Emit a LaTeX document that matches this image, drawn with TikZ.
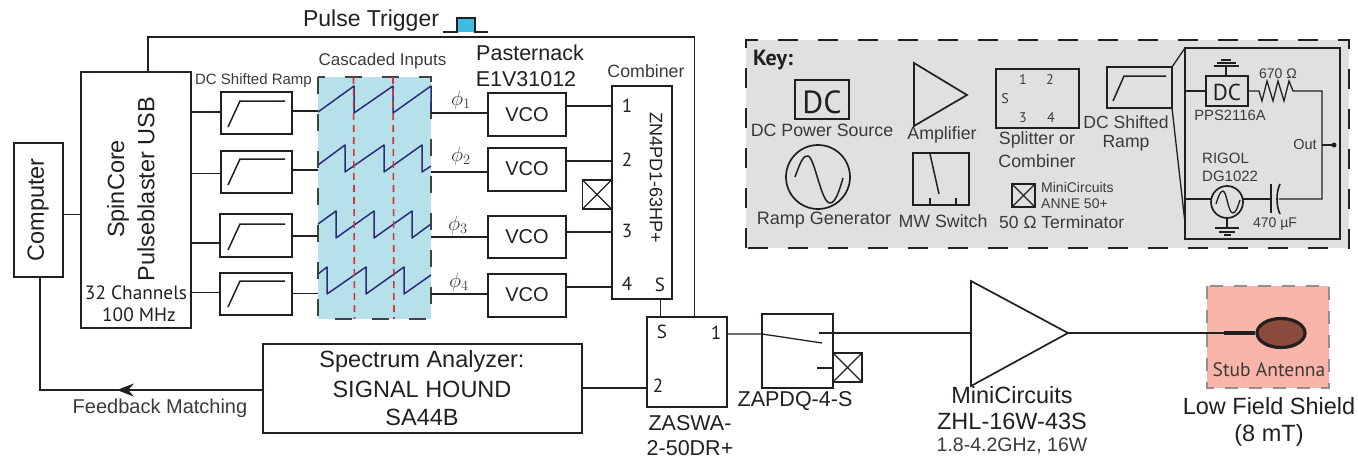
\documentclass[tikz,border=0pt]{standalone}
\usepackage{fontspec}
\setmainfont{Liberation Sans}
\newfontfamily\myr{PT Sans}
\usetikzlibrary{arrows.meta,calc,shapes.geometric,decorations.markings}

\definecolor{ink}{HTML}{231F20}
\definecolor{greytext}{HTML}{3A3A3A}
\definecolor{cascfill}{HTML}{B7E1EA}
\definecolor{sawblue}{HTML}{2B2D7A}
\definecolor{markred}{HTML}{D2323A}
\definecolor{keyfill}{HTML}{E0E0E0}
\definecolor{shieldfill}{HTML}{F8B5A8}
\definecolor{loopfill}{HTML}{8A4A3C}
\definecolor{pulsefill}{HTML}{3FBDE0}

\newcommand{\fs}[1]{\fontsize{#1}{#1}\selectfont}

\tikzset{
    blockbox/.style={draw=ink,line width=1.7pt,inner sep=0pt,outer sep=0pt},
    wire/.style={draw=ink,line width=1.6pt},
    thinwire/.style={draw=ink,line width=1.3pt},
    label/.style={inner sep=0pt,text=ink},
    greylabel/.style={inner sep=0pt,text=greytext},
    saw/.style={draw=sawblue,line width=1.5pt,line join=round},
    midarrow/.style={postaction={decorate},decoration={markings,
        mark=at position 0.435 with {\arrow{Stealth[length=17pt,width=13pt]}}}},
}

\begin{document}
\begin{tikzpicture}[x=1pt,y=-1pt]
    \useasboundingbox (0,0) rectangle (1358,458);

    % filled regions
    \node[inner sep=0pt,fill=cascfill,minimum width=113pt,minimum height=242pt] (cascade) at (374.5,198) {};
    \draw[ink!85,line width=1.8pt,dash pattern=on 17pt off 20pt] (318,77) rectangle (431,319);
    \node[inner sep=0pt,fill=keyfill,minimum width=603pt,minimum height=208pt] (key) at (1047.5,144) {};
    \draw[ink,line width=1.8pt,dash pattern=on 20pt off 20pt] (746,248) -- (746,40) -- (1349,40) -- (1349,248) -- cycle;
    \node[inner sep=0pt,fill=shieldfill,minimum width=122pt,minimum height=102pt] (shield) at (1268,337) {};
    \draw[ink!50,line width=1.6pt,dash pattern=on 13pt off 11pt] (1207,286) rectangle (1329,388);

    % main blocks
    \node[blockbox,minimum width=49pt,minimum height=134pt] (computer) at (38.5,210) {};
    \node[label,rotate=90] (computer_txt) at (38,210) {\fs{23.5}Computer};
    \node[blockbox,minimum width=110pt,minimum height=256pt] (blaster) at (136,200) {};
    \node[label,rotate=90] (blaster_a) at (118,189) {\fs{23.5}SpinCore};
    \node[label,rotate=90] (blaster_b) at (146,189) {\fs{23.5}Pulseblaster USB};
    \node[label] (blaster_c) at (136,293) {\myr\fs{19.3}32 Channels};
    \node[label] (blaster_d) at (139,315) {\myr\fs{19.3}100 MHz};

    \node[blockbox,minimum width=71pt,minimum height=42pt] (ramp_1) at (256.5,113) {};
    \node[blockbox,minimum width=71pt,minimum height=42pt] (ramp_2) at (256.5,172) {};
    \node[blockbox,minimum width=72pt,minimum height=43pt] (ramp_3) at (256,235.5) {};
    \node[blockbox,minimum width=72pt,minimum height=42pt] (ramp_4) at (256,294) {};
    \draw[thinwire,line width=1.5pt] (228,127) -- (240,101) -- (285,101);
    \draw[thinwire,line width=1.5pt] (228,185) -- (240,159) -- (285,159);
    \draw[thinwire,line width=1.5pt] (228,250) -- (240,224) -- (285,224);
    \draw[thinwire,line width=1.5pt] (228,307) -- (240,281) -- (285,281);
    \node[greylabel] (ramp_txt) at (253.5,81) {\fs{15}DC Shifted Ramp};
    \node[greylabel] (cascade_txt) at (382.5,61) {\fs{17}Cascaded Inputs};

    \node[blockbox,minimum width=78pt,minimum height=43pt] (vco_1) at (527,114.5) {};
    \node[blockbox,minimum width=78pt,minimum height=43pt] (vco_2) at (527,169.5) {};
    \node[blockbox,minimum width=78pt,minimum height=42pt] (vco_3) at (527,237) {};
    \node[blockbox,minimum width=78pt,minimum height=43pt] (vco_4) at (527,295.5) {};
    \node[label] (vco_1_txt) at (527,115) {\fs{20}VCO};
    \node[label] (vco_2_txt) at (527,169) {\fs{20}VCO};
    \node[label] (vco_3_txt) at (527,237) {\fs{20}VCO};
    \node[label] (vco_4_txt) at (527,295) {\fs{20}VCO};
    \node[label] (vco_a) at (530,53) {\fs{21.5}Pasternack};
    \node[label] (vco_b) at (526,79) {\fs{21.5}E1V31012};
    \node[greylabel] (phi_1) at (461,100) {\fs{20}$\phi_1$};
    \node[greylabel] (phi_2) at (461,156) {\fs{20}$\phi_2$};
    \node[greylabel] (phi_3) at (458,225) {\fs{20}$\phi_3$};
    \node[greylabel] (phi_4) at (459,282) {\fs{20}$\phi_4$};

    \node[blockbox,minimum width=60pt,minimum height=213pt] (combiner) at (642,192.5) {};
    \node[greylabel] (combiner_txt) at (646,71) {\fs{17.8}Combiner};
    \node[label] (comb_1) at (627,106) {\myr\fs{19}1};
    \node[label] (comb_2) at (627,160) {\myr\fs{19}2};
    \node[label] (comb_3) at (627,231) {\myr\fs{19}3};
    \node[label] (comb_4) at (627,284) {\myr\fs{19}4};
    \node[label] (comb_s) at (660,285) {\myr\fs{19}S};
    \node[label,rotate=-90] (comb_part) at (656,178) {\fs{18}ZN4PD1-63HP+};
    \node[blockbox,minimum width=29pt,minimum height=29pt] (term_a) at (597,194.5) {};
    \draw[thinwire] (term_a.north west) -- (term_a.south east);
    \draw[thinwire] (term_a.north east) -- (term_a.south west);

    \node[blockbox,minimum width=319pt,minimum height=89pt] (spec_an) at (422.5,388.5) {};
    \node[label] (spec_a) at (422,361) {\fs{23.5}Spectrum Analyzer:};
    \node[label] (spec_b) at (422,389) {\fs{23.5}SIGNAL HOUND};
    \node[label] (spec_c) at (422,417) {\fs{23.5}SA44B};
    \node[greylabel] (feedback) at (160,408) {\fs{20}Feedback Matching};

    \node[blockbox,minimum width=80pt,minimum height=90pt] (zaswa) at (687,362) {};
    \node[label] (zaswa_s) at (662,332) {\myr\fs{19}S};
    \node[label] (zaswa_1) at (716,333) {\myr\fs{19}1};
    \node[label] (zaswa_2) at (658,386) {\myr\fs{19}2};
    \node[label] (zaswa_a) at (690,423.5) {\fs{21.5}ZASWA-};
    \node[label] (zaswa_b) at (690,448.5) {\fs{21.5}2-50DR+};

    \node[blockbox,minimum width=71pt,minimum height=74pt] (switch) at (797.5,351) {};
    \node[label] (switch_txt) at (795,401) {\fs{21.5}ZAPDQ-4-S};
    \node[blockbox,minimum width=29pt,minimum height=29pt] (term_b) at (847.5,367.5) {};
    \draw[thinwire] (term_b.north west) -- (term_b.south east);
    \draw[thinwire] (term_b.north east) -- (term_b.south west);
    \coordinate (sw_in) at (762,334);
    \coordinate (sw_lever) at (822,343);
    \coordinate (sw_top) at (819,333);
    \coordinate (sw_low) at (817,368);

    \coordinate (amp_in) at (971,333);
    \coordinate (amp_out) at (1068,333);
    \draw[blockbox] (971,281) -- (1068,333) -- (971,386) -- cycle;
    \node[label] (amp_a) at (1012,395) {\fs{23.5}MiniCircuits};
    \node[label] (amp_b) at (1012,421) {\fs{23.5}ZHL-16W-43S};
    \node[greylabel] (amp_c) at (1012,446) {\fs{19.5}1.8-4.2GHz, 16W};

    % antenna
    \node[draw=ink,line width=3.2pt,fill=loopfill,ellipse,inner sep=0pt,minimum width=48pt,minimum height=29pt] (loop) at (1281,333) {};
    \coordinate (stem) at (1224,333);
    \draw[ink,line width=3.2pt] (stem) -- (loop.west);
    \node[greylabel] (stub_txt) at (1269,370) {\myr\fs{19.5}Stub Antenna};
    \node[label] (shield_a) at (1269,406) {\fs{23.5}Low Field Shield};
    \node[label] (shield_b) at (1269,435) {\fs{23.5}(8 mT)};

    % sawtooth inputs
    \draw[saw] (318,112) -- (354,86) -- (354,113) -- (393,86) -- (393,113) -- (431,86) -- (431,113);
    \draw[saw] (318,165) -- (345,145) -- (345,172) -- (384,145) -- (384,172) -- (422,145) -- (422,172) -- (431,166);
    \draw[saw] (318,224) -- (336,211) -- (336,238) -- (374,211) -- (374,238) -- (412,211) -- (412,238) -- (431,224);
    \draw[saw] (318,274) -- (327,267) -- (327,294) -- (366,267) -- (366,294) -- (404,267) -- (404,294) -- (431,275);
    \draw[markred,line width=1.6pt,dash pattern=on 7pt off 5pt] (353.5,77) -- (354.5,319);
    \draw[markred,line width=1.6pt,dash pattern=on 7pt off 5pt] (393,77) -- (394,319);

    % connections
    \draw[wire] (computer.east |- 0,214.5) -- (blaster.west |- 0,214.5);
    \draw[wire] (blaster.east |- 0,112) -- (ramp_1.west |- 0,112);
    \draw[wire] (blaster.east |- 0,173.5) -- (ramp_2.west |- 0,173.5);
    \draw[wire] (blaster.east |- 0,243) -- (ramp_3.west |- 0,243);
    \draw[wire] (blaster.east |- 0,292.5) -- (ramp_4.west |- 0,292.5);
    \draw[wire] (ramp_1.east |- 0,111) -- (cascade.west |- 0,111);
    \draw[wire] (ramp_2.east |- 0,170) -- (cascade.west |- 0,170);
    \draw[wire] (ramp_3.east |- 0,236) -- (cascade.west |- 0,236);
    \draw[wire] (ramp_4.east |- 0,293.5) -- (cascade.west |- 0,293.5);
    \draw[wire] (cascade.east |- 0,113) -- (vco_1.west |- 0,113);
    \draw[wire] (cascade.east |- 0,172) -- (vco_2.west |- 0,172);
    \draw[wire] (cascade.east |- 0,237) -- (vco_3.west |- 0,237);
    \draw[wire] (cascade.east |- 0,294) -- (vco_4.west |- 0,294);
    \draw[wire] (vco_1.east |- 0,106) -- (combiner.west |- 0,106);
    \draw[wire] (vco_2.east |- 0,161) -- (combiner.west |- 0,161);
    \draw[wire] (vco_3.east |- 0,232) -- (combiner.west |- 0,232);
    \draw[wire] (vco_4.east |- 0,287) -- (combiner.west |- 0,287);
    \draw[wire] (combiner.south -| 660.5,0) -- (zaswa.north -| 660.5,0);
    \draw[wire] (blaster.north -| 148,0) -- (148,37) -- (694.5,37) -- (zaswa.north -| 694.5,0);
    \draw[wire] (spec_an.east |- 0,388) -- (zaswa.west |- 0,388);
    \draw[wire,midarrow] (spec_an.west |- 0,390) -- (40,390) -- (40,277);
    \draw[thinwire] (zaswa.east |- 0,334) -- (sw_in) -- (sw_lever);
    \draw[thinwire] (sw_top) -- (amp_in);
    \draw[thinwire] (sw_low) -- (term_b.west |- sw_low);
    \draw[thinwire] (amp_out) -- (stem);

    % trigger pulse
    \node[label] (pulse_txt) at (371,21) {\fs{23}Pulse Trigger};
    \fill[pulsefill] (457,18) rectangle (475,32);
    \draw[thinwire] (443,32) -- (457,32) -- (457,18) -- (475,18) -- (475,32) -- (488,32);

    % key
    \node[label] (key_txt) at (773,60) {\myr\bfseries\fs{22}Key:};
    \node[blockbox,minimum width=54pt,minimum height=39pt] (key_dc) at (822,99.5) {};
    \node[label] (key_dc_txt) at (822,102) {\myr\fs{32}DC};
    \node[greylabel] (key_dc_lab) at (822,130) {\fs{17.8}DC Power Source};
    \draw[blockbox] (914,63) -- (967,95) -- (914,126) -- cycle;
    \node[greylabel] (key_amp_lab) at (942,135) {\fs{17.8}Amplifier};
    \node[blockbox,minimum width=83pt,minimum height=59pt] (key_split) at (1037.5,98.5) {};
    \node[greylabel] (split_1) at (1023,80) {\myr\fs{14}1};
    \node[greylabel] (split_2) at (1050,80) {\myr\fs{14}2};
    \node[greylabel] (split_s) at (1005,99) {\myr\fs{14}S};
    \node[greylabel] (split_3) at (1023,118) {\myr\fs{14}3};
    \node[greylabel] (split_4) at (1051,118) {\myr\fs{14}4};
    \node[greylabel] (split_a) at (1037,140) {\fs{17.8}Splitter or};
    \node[greylabel] (split_b) at (1037,161) {\fs{17.8}Combiner};
    \node[blockbox,circle,minimum size=64pt] (key_gen) at (818,177) {};
    \draw[thinwire,line width=1.5pt] (795,177) .. controls (801,160) and (804,155) .. (808,156)
        .. controls (815,158) and (821,203) .. (830,203) .. controls (836,203) and (840,188) .. (843,178);
    \node[greylabel] (key_gen_lab) at (824,220) {\fs{18}Ramp Generator};
    \node[blockbox,minimum width=56pt,minimum height=52pt] (key_sw) at (941,179) {};
    \draw[thinwire,line width=1.5pt] (930,154) -- (939,194);
    \draw[thinwire] (key_sw.south -| 930,0) -- (930,198);
    \draw[thinwire] (key_sw.south -| 956,0) -- (956,198);
    \node[greylabel] (key_sw_lab) at (943,221) {\fs{17.8}MW Switch};
    \node[blockbox,minimum width=23pt,minimum height=23pt] (key_term) at (1023.5,195.5) {};
    \draw[thinwire] (key_term.north west) -- (key_term.south east);
    \draw[thinwire] (key_term.north east) -- (key_term.south west);
    \node[greylabel,anchor=west] (key_term_a) at (1041,187) {\fs{14}MiniCircuits};
    \node[greylabel,anchor=west] (key_term_b) at (1041,204) {\fs{14}ANNE 50+};
    \node[greylabel,anchor=west] (key_term_c) at (999,222) {\fs{17.5}50 Ω Terminator};
    \node[blockbox,minimum width=65pt,minimum height=41pt] (key_ramp) at (1139.5,87.5) {};
    \draw[thinwire,line width=1.5pt] (1113,101) -- (1124,76) -- (1166,76);
    \node[greylabel] (key_ramp_a) at (1126,122) {\fs{17.6}DC Shifted};
    \node[greylabel] (key_ramp_b) at (1126,143) {\fs{17.6}Ramp};

    % ramp circuit
    \node[blockbox,minimum width=155pt,minimum height=191pt] (inset) at (1262.5,143.5) {};
    \draw[thinwire] (key_ramp.north east) -- (inset.north west);
    \draw[thinwire] (key_ramp.south east) -- (inset.west |- 0,223);
    \node[blockbox,minimum width=42pt,minimum height=30pt] (in_dc) at (1227,91) {};
    \node[label] (in_dc_txt) at (1227,92) {\myr\fs{23}DC};
    \node[blockbox,circle,minimum size=32pt] (in_gen) at (1227,202) {};
    \draw[thinwire] (1216,204) .. controls (1219,194) and (1221,191) .. (1223,191)
        .. controls (1227,192) and (1228,213) .. (1233,213) .. controls (1236,213) and (1238,206) .. (1240,200);
    \coordinate (gnd_top) at (1226,66);
    \coordinate (gnd_low) at (1227,228);
    \coordinate (res_in) at (1259,91);
    \coordinate (res_out) at (1293,91);
    \coordinate (cap_l) at (1271,199);
    \coordinate (cap_r) at (1279,199);
    \coordinate (out_node) at (1322,145);
    \coordinate (out_end) at (1334,145);
    \draw[wire] (inset.west |- in_dc) -- (in_dc.west);
    \draw[wire,line width=1.3pt] (in_dc.east) -- (res_in) -- (1262,101) -- (1267,81) -- (1273,101) -- (1278,81) -- (1284,101) -- (1289,81) -- (res_out) -- (1322,91) -- (1322,199) -- (cap_r);
    \draw[wire] (inset.west |- 0,199) -- (in_gen.west |- 0,199);
    \draw[wire] (in_gen.east |- 0,199) -- (cap_l);
    \draw[wire] (1271,184) -- (1271,213);
    \draw[wire] (1280,184) .. controls (1276,192) and (1276,206) .. (1280,214);
    \draw[wire] (out_node) -- (out_end);
    \fill[ink] (out_end) circle (2.5pt);
    \draw[wire] (in_dc.north -| gnd_top) -- (gnd_top);
    \draw[wire] (1214,66) -- (1239,66);
    \draw[wire] (1217,63) -- (1236,63);
    \draw[wire] (1221,60) -- (1231,60);
    \draw[wire] (in_gen.south) -- (gnd_low);
    \draw[wire] (1215,228) -- (1239,228);
    \draw[wire] (1219,232) -- (1235,232);
    \draw[wire] (1224,235) -- (1231,235);
    \node[greylabel] (res_txt) at (1278,74) {\fs{14}670 Ω};
    \node[greylabel] (pps_txt) at (1230,115) {\fs{14.8}PPS2116A};
    \node[greylabel] (out_txt) at (1305,145) {\fs{14.5}Out};
    \node[greylabel,anchor=west] (rigol_a) at (1202,158) {\fs{15}RIGOL};
    \node[greylabel,anchor=west] (rigol_b) at (1202,176) {\fs{15}DG1022};
    \node[greylabel] (cap_txt) at (1275,224) {\fs{14}470 µF};

\end{tikzpicture}
\end{document}
